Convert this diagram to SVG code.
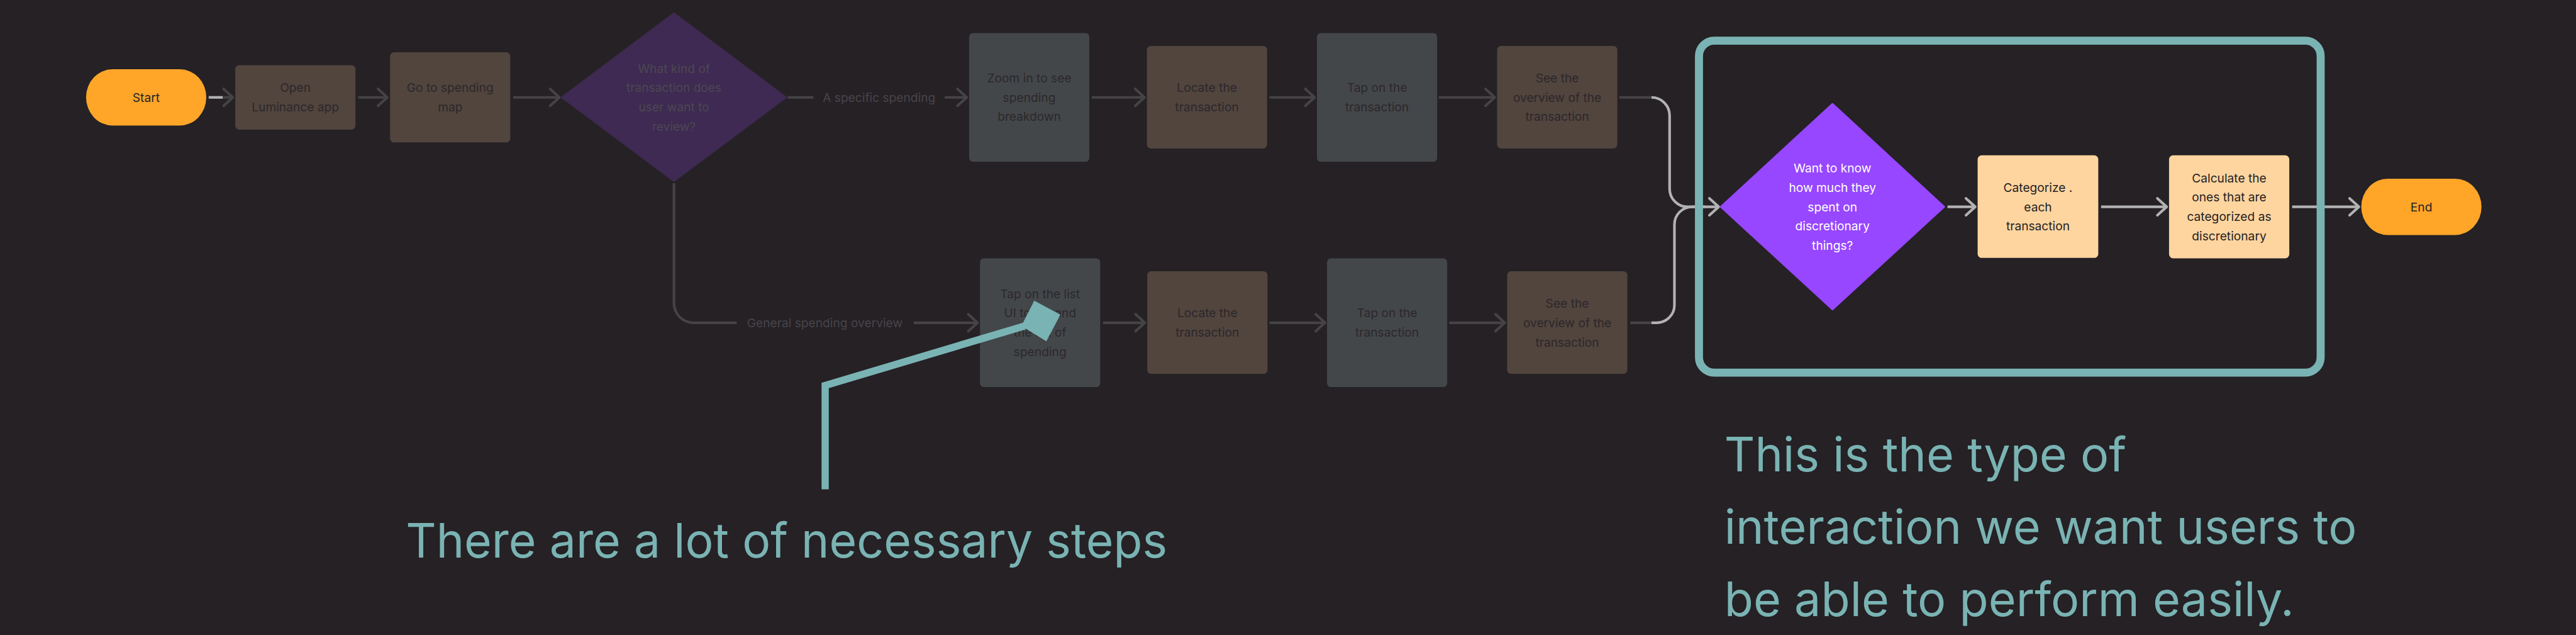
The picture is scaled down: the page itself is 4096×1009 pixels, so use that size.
<svg xmlns="http://www.w3.org/2000/svg" width="4096" height="1009" viewBox="0 0 4096 1009">
<style>
.t{font-family:Inter,"Noto Sans","Liberation Sans",sans-serif;font-size:30px;text-anchor:middle}
.dt{fill:#2d272a}
.bt{fill:#262224}
.wt{fill:#ffffff}
.lbl{fill:#48444a}
.big{font-family:Inter,"Noto Sans","Liberation Sans",sans-serif;fill:#7ab3b3}
.cd{fill:none;stroke:#464347;stroke-width:6.5}
.cl{fill:none;stroke:#b2b2b2;stroke-width:6.5}
.brown{fill:#51453e}
.grey{fill:#43474a}
.peach{fill:#ffd59f}
.orange{fill:#ffa629}
</style>
<defs>
<marker id="ad" markerUnits="userSpaceOnUse" orient="auto" refX="0" refY="0" markerWidth="60" markerHeight="60" viewBox="-30 -30 60 60" overflow="visible">
<path d="M-23,-21 L0,0 L-23,21" fill="none" stroke="#464347" stroke-width="6.5" stroke-linecap="round" stroke-linejoin="round"/>
</marker>
<marker id="al" markerUnits="userSpaceOnUse" orient="auto" refX="0" refY="0" markerWidth="60" markerHeight="60" viewBox="-30 -30 60 60" overflow="visible">
<path d="M-23,-21 L0,0 L-23,21" fill="none" stroke="#b2b2b2" stroke-width="6.5" stroke-linecap="round" stroke-linejoin="round"/>
</marker>
</defs>
<rect width="4096" height="1009" fill="#252125"/>
<g transform="scale(0.6394)">

<g id="connectors">
<line class="cl" x1="519" y1="242" x2="554" y2="242"/>
<line class="cd" x1="554" y1="242" x2="579" y2="242" marker-end="url(#ad)"/>
<line class="cd" x1="891" y1="242" x2="963" y2="242" marker-end="url(#ad)"/>
<line class="cd" x1="1276" y1="242" x2="1391" y2="242" marker-end="url(#ad)"/>
<line class="cd" x1="1959" y1="242" x2="2023" y2="242"/>
<line class="cd" x1="2349" y1="242" x2="2404" y2="242" marker-end="url(#ad)"/>
<line class="cd" x1="2715" y1="242" x2="2846" y2="242" marker-end="url(#ad)"/>
<line class="cd" x1="3157" y1="242" x2="3269" y2="242" marker-end="url(#ad)"/>
<line class="cd" x1="3578" y1="242" x2="3717" y2="242" marker-end="url(#ad)"/>
<line class="cd" x1="4027" y1="242" x2="4107" y2="242"/>
<path class="cl" d="M4107,242 A45,45 0 0 1 4152,287 V469 A45,45 0 0 0 4197,514 H4274" marker-end="url(#al)"/>
<path class="cd" d="M1676,455 V753 A49,49 0 0 0 1725,802 H1832"/>
<line class="cd" x1="2272" y1="802" x2="2431" y2="802" marker-end="url(#ad)"/>
<line class="cd" x1="2743" y1="802" x2="2847" y2="802" marker-end="url(#ad)"/>
<line class="cd" x1="3157" y1="802" x2="3295" y2="802" marker-end="url(#ad)"/>
<line class="cd" x1="3604" y1="802" x2="3742" y2="802" marker-end="url(#ad)"/>
<line class="cd" x1="4054" y1="802" x2="4107" y2="802"/>
<path class="cl" d="M4107,802 H4120 A44,44 0 0 0 4164,758 V558 A44,44 0 0 1 4208,514 H4240"/>
<line class="cl" x1="4843" y1="514" x2="4912" y2="514" marker-end="url(#al)"/>
<line class="cl" x1="5225" y1="514" x2="5388" y2="514" marker-end="url(#al)"/>
<line class="cl" x1="5700" y1="514" x2="5866" y2="514" marker-end="url(#al)"/>
<text class="t lbl" x="2186" y="253">A specific spending</text>
<text class="t lbl" x="2051" y="813">General spending overview</text>
</g>

<g id="start">
<rect class="orange" x="214" y="172" width="299" height="140" rx="66" ry="70"/>
<text class="t bt" x="363.5" y="253">Start</text>
</g>
<g id="open-app">
<rect class="brown" x="585" y="162" width="299" height="160" rx="10"/>
<text class="t dt" x="734.5" y="229">Open</text>
<text class="t dt" x="734.5" y="277">Luminance app</text>
</g>
<g id="go-spending-map">
<rect class="brown" x="970" y="130" width="299" height="224" rx="10"/>
<text class="t dt" x="1119.5" y="229">Go to spending</text>
<text class="t dt" x="1119.5" y="277">map</text>
</g>
<g id="decision-kind">
<path d="M1676,33 L1955,242 L1676,450 L1397,242 Z" fill="#3e2a52" stroke="#3e2a52" stroke-width="4" stroke-linejoin="round"/>
<text class="t" fill="#4c4752" x="1676" y="181">What kind of</text>
<text class="t" fill="#4c4752" x="1676" y="229">transaction does</text>
<text class="t" fill="#4c4752" x="1676" y="277">user want to</text>
<text class="t" fill="#4c4752" x="1676" y="325">review?</text>
</g>
<g id="zoom-in">
<rect class="grey" x="2410" y="82" width="299" height="320" rx="10"/>
<text class="t dt" x="2559.5" y="205">Zoom in to see</text>
<text class="t dt" x="2559.5" y="253">spending</text>
<text class="t dt" x="2559.5" y="301">breakdown</text>
</g>
<g id="locate-1">
<rect class="brown" x="2852" y="114" width="299" height="255" rx="10"/>
<text class="t dt" x="3001.5" y="229">Locate the</text>
<text class="t dt" x="3001.5" y="277">transaction</text>
</g>
<g id="tap-1">
<rect class="grey" x="3275" y="82" width="299" height="320" rx="10"/>
<text class="t dt" x="3424.5" y="229">Tap on the</text>
<text class="t dt" x="3424.5" y="277">transaction</text>
</g>
<g id="overview-1">
<rect class="brown" x="3723" y="114" width="299" height="255" rx="10"/>
<text class="t dt" x="3872.5" y="205">See the</text>
<text class="t dt" x="3872.5" y="253">overview of the</text>
<text class="t dt" x="3872.5" y="301">transaction</text>
</g>
<g id="tap-list">
<rect class="grey" x="2437" y="642" width="299" height="320" rx="10"/>
<text class="t dt" x="2586.5" y="741">Tap on the list</text>
<text class="t dt" x="2586.5" y="789">UI to expand</text>
<text class="t dt" x="2586.5" y="837">the list of</text>
<text class="t dt" x="2586.5" y="885">spending</text>
</g>
<g id="locate-2">
<rect class="brown" x="2853" y="674" width="299" height="255" rx="10"/>
<text class="t dt" x="3002.5" y="789">Locate the</text>
<text class="t dt" x="3002.5" y="837">transaction</text>
</g>
<g id="tap-2">
<rect class="grey" x="3300" y="642" width="299" height="320" rx="10"/>
<text class="t dt" x="3449.5" y="789">Tap on the</text>
<text class="t dt" x="3449.5" y="837">transaction</text>
</g>
<g id="overview-2">
<rect class="brown" x="3748" y="674" width="299" height="255" rx="10"/>
<text class="t dt" x="3897.5" y="765">See the</text>
<text class="t dt" x="3897.5" y="813">overview of the</text>
<text class="t dt" x="3897.5" y="861">transaction</text>
</g>

<g id="highlight-frame">
<rect x="4225" y="101" width="1546" height="825" rx="38" fill="none" stroke="#7ab3b3" stroke-width="20"/>
</g>
<g id="decision-discretionary">
<path d="M4557,258 L4835,514 L4557,769 L4279,514 Z" fill="#9747ff" stroke="#9747ff" stroke-width="4" stroke-linejoin="round"/>
<text class="t wt" x="4557" y="429">Want to know</text>
<text class="t wt" x="4557" y="477">how much they</text>
<text class="t wt" x="4557" y="525">spent on</text>
<text class="t wt" x="4557" y="573">discretionary</text>
<text class="t wt" x="4557" y="621">things?</text>
</g>
<g id="categorize">
<rect class="peach" x="4918" y="386" width="300" height="255" rx="10"/>
<text class="t bt" x="5068" y="477">Categorize .</text>
<text class="t bt" x="5068" y="525">each</text>
<text class="t bt" x="5068" y="573">transaction</text>
</g>
<g id="calculate">
<rect class="peach" x="5394" y="386" width="299" height="256" rx="10"/>
<text class="t bt" x="5543.5" y="453">Calculate the</text>
<text class="t bt" x="5543.5" y="501">ones that are</text>
<text class="t bt" x="5543.5" y="549">categorized as</text>
<text class="t bt" x="5543.5" y="597">discretionary</text>
</g>
<g id="end">
<rect class="orange" x="5872" y="444" width="299" height="140" rx="66" ry="70"/>
<text class="t bt" x="6021.5" y="525">End</text>
</g>

<g id="annotation-arrow">
<path d="M2052,1216 V958 L2548,810" fill="none" stroke="#7ab3b3" stroke-width="18" stroke-linejoin="miter"/>
<polygon points="2572,747 2637,782 2602,848 2540,810" fill="#7ab3b3"/>
</g>
<g id="annotation-left">
<text class="big" x="1009" y="1386" font-size="119" textLength="1894" lengthAdjust="spacingAndGlyphs">There are a lot of necessary steps</text>
</g>
<g id="annotation-right">
<text class="big" x="4288" y="1171" font-size="118">This is the type of</text>
<text class="big" x="4288" y="1352" font-size="118">interaction we want users to</text>
<text class="big" x="4288" y="1531" font-size="118">be able to perform easily.</text>
</g>
</g>
</svg>
